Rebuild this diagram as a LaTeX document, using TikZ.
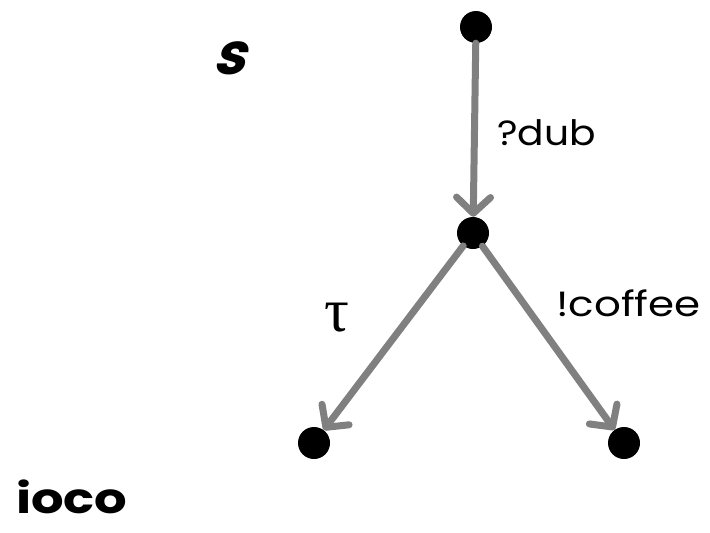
\documentclass[tikz,border=0pt]{standalone}
\usepackage{fontspec}
\usepackage{graphicx}
\setmainfont{Poppins}
\newfontfamily\slantbold{Poppins}[FakeSlant=0.3, BoldFont={Poppins Bold}]
\newfontfamily\greekserif{Liberation Serif}
\usetikzlibrary{arrows.meta}
\definecolor{edgegray}{HTML}{808080}
\newcommand{\widetext}[2]{\scalebox{#1}[1]{#2}}
\tikzset{
  state/.style={circle, fill=black, minimum size=32pt, inner sep=0pt},
  trans/.style={draw=edgegray, line width=7pt, line cap=round,
    -{Straight Barb[length=16pt, width=34pt, round]}},
  lbl/.style={font=\fontsize{35}{40}\selectfont, inner sep=0pt},
}
\begin{document}
\begin{tikzpicture}[x=1pt, y=-1pt]
  \useasboundingbox (0,0) rectangle (710,533);
  % states
  \node[state] (s0) at (476,27) {};
  \node[state] (s1) at (473,233) {};
  \node[state] (s2) at (314,443) {};
  \node[state] (s3) at (624,443) {};
  % transitions
  \draw[trans] (s0) -- (s1);
  \draw[trans] (s1) -- (s2);
  \draw[trans] (s1) -- (s3);
  % labels
  \node[lbl, anchor=west] (ldub) at (497,133) {\widetext{1.12}{?dub}};
  \node[lbl, anchor=west] (lcof) at (556,303) {\widetext{1.2}{!coffee}};
  \node[inner sep=0pt] (ltau) at (337,318) {\fontsize{62}{66}\selectfont\greekserif τ};
  \node[inner sep=0pt] (spec) at (229,58) {\fontsize{58}{64}\selectfont\slantbold\bfseries s};
  \node[inner sep=0pt, anchor=base west] (rel) at (16,513) {\fontsize{42}{48}\selectfont\bfseries\widetext{1.22}{ioco}};
\end{tikzpicture}
\end{document}
